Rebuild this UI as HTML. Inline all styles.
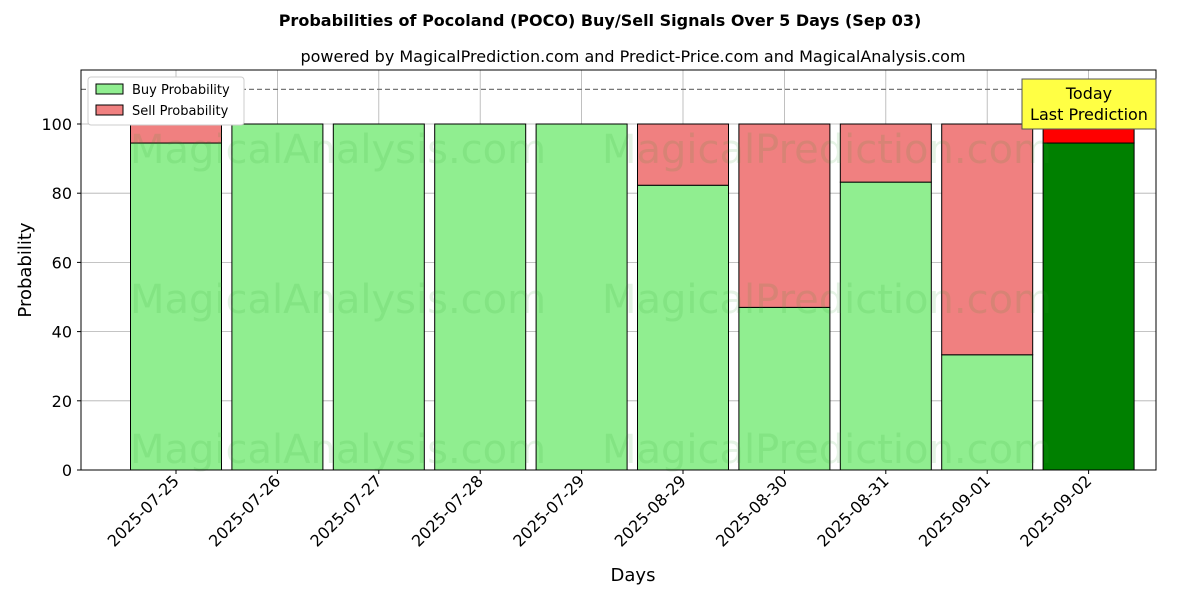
<!DOCTYPE html>
<html><head><meta charset="utf-8"><style>
body{margin:0;background:#fff;font-family:"Liberation Sans","DejaVu Sans",sans-serif;}
</style></head><body>
<svg width="1200" height="600" xmlns="http://www.w3.org/2000/svg" font-family="DejaVu Sans, Liberation Sans, sans-serif">
<text x="600" y="26" text-anchor="middle" font-size="16" font-weight="bold">Probabilities of Pocoland (POCO) Buy/Sell Signals Over 5 Days (Sep 03)</text>
<text x="633" y="62" text-anchor="middle" font-size="16">powered by MagicalPrediction.com and Predict-Price.com and MagicalAnalysis.com</text>
<g id="grid"></g>
<g id="bars"></g>
<g font-size="40" fill="#2ca02c" fill-opacity="0.12">
<text x="130" y="163">MagicalAnalysis.com</text><text x="602" y="163">MagicalPrediction.com</text>
<text x="130" y="313">MagicalAnalysis.com</text><text x="602" y="313">MagicalPrediction.com</text>
<text x="130" y="463">MagicalAnalysis.com</text><text x="602" y="463">MagicalPrediction.com</text>
</g>
<line x1="81" x2="1156" y1="89.4" y2="89.4" stroke="#777" stroke-dasharray="5,3" stroke-width="1.2"/>
<rect x="81" y="70" width="1075" height="400" fill="none" stroke="#000" stroke-width="1"/>
<g id="ticks"></g>
<text x="31" y="270" transform="rotate(-90 31 270)" text-anchor="middle" font-size="18">Probability</text>
<text x="633" y="581" text-anchor="middle" font-size="18">Days</text>
<g>
<rect x="88" y="77" width="156" height="48" fill="#fff" stroke="#ccc" rx="3"/>
<rect x="96" y="84" width="27" height="10" fill="#90ee90" stroke="#000"/>
<text x="132" y="94" font-size="13">Buy Probability</text>
<rect x="96" y="105" width="27" height="10" fill="#f08080" stroke="#000"/>
<text x="132" y="115" font-size="13">Sell Probability</text>
</g>
<g>
<rect x="1022" y="79" width="134" height="50" fill="#ffff44" stroke="#555"/>
<text x="1089" y="99" text-anchor="middle" font-size="16">Today</text>
<text x="1089" y="120" text-anchor="middle" font-size="16">Last Prediction</text>
</g>
</svg>
<script>
const categories=["2025-07-25","2025-07-26","2025-07-27","2025-07-28","2025-07-29","2025-08-29","2025-08-30","2025-08-31","2025-09-01","2025-09-02"];
const buyValues=[94.5,100,100,100,100,82.3,47,83.2,33.3,94.5];
const sellValues=[5.5,0,0,0,0,17.7,53,16.8,66.7,5.5];
const yTicks=[0,20,40,60,80,100];
const NS="http://www.w3.org/2000/svg";
const y=v=>470-v*3.46;
const x=i=>176+i*101.4;
const bw=91;
function mk(t,a,p){const e=document.createElementNS(NS,t);for(const k in a)e.setAttribute(k,a[k]);p.appendChild(e);return e;}
const grid=document.getElementById('grid'),bars=document.getElementById('bars'),ticks=document.getElementById('ticks');
yTicks.forEach(v=>{
 const l=mk('line',{x1:81,x2:1156,y1:y(v),y2:y(v),stroke:'#b0b0b0','stroke-width':0.8},grid);
 
 
 mk('line',{x1:77,x2:81,y1:y(v),y2:y(v),stroke:'#000'},ticks);
 const t=mk('text',{x:72,y:y(v)+6,'text-anchor':'end','font-size':16},ticks);t.textContent=v;
 
 
});
categories.forEach((c,i)=>{
 const cx=x(i);
 const g=mk('line',{x1:cx,x2:cx,y1:70,y2:470,stroke:'#b0b0b0','stroke-width':0.8},grid);
 
 
 const last=i===categories.length-1;
 const b=mk('rect',{x:cx-bw/2,y:y(buyValues[i]),width:bw,height:buyValues[i]*3.46,fill:last?'#008000':'#90ee90',stroke:'#000','stroke-width':1},bars);
 
 
 const s=mk('rect',{x:cx-bw/2,y:y(buyValues[i]+sellValues[i]),width:bw,height:sellValues[i]*3.46,fill:last?'#ff0000':'#f08080',stroke:'#000','stroke-width':1},bars);
 
 
 mk('line',{x1:cx,x2:cx,y1:470,y2:474,stroke:'#000'},ticks);
 const t=mk('text',{x:cx+4,y:482,'text-anchor':'end','font-size':16,transform:`rotate(-45 ${cx+4} 482)`},ticks);t.textContent=c;
 
 
});
</script>
</body></html>
